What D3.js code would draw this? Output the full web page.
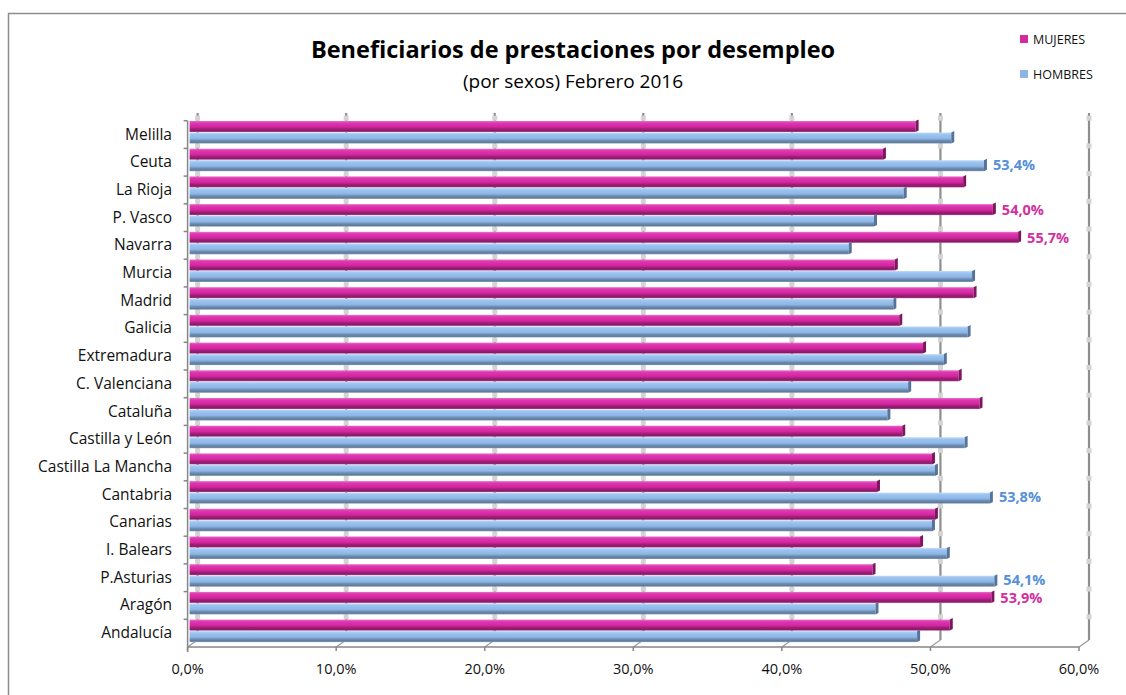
<!DOCTYPE html>
<html>
<head>
<meta charset="utf-8">
<script src="https://cdn.jsdelivr.net/npm/d3@7"></script>
<style>
  html, body { margin: 0; padding: 0; background: #fff; }
  svg { display: block; font-family: "Open Sans", Lato, sans-serif; }
</style>
</head>
<body>
<svg id="chart" width="1126" height="695"></svg>
<script>
// Data (percent of beneficiaries by sex)
const categories = ["Melilla", "Ceuta", "La Rioja", "P. Vasco", "Navarra", "Murcia", "Madrid", "Galicia",
  "Extremadura", "C. Valenciana", "Cataluña", "Castilla y León", "Castilla La Mancha", "Cantabria",
  "Canarias", "I. Balears", "P.Asturias", "Aragón", "Andalucía"];
const mujeres = [48.8, 46.6, 52.0, 54.0, 55.7, 47.4, 52.7, 47.7, 49.3, 51.7, 53.1, 47.9, 49.9, 46.2, 50.1, 49.1, 45.9, 53.9, 51.1];
const hombres = [51.2, 53.4, 48.0, 46.0, 44.3, 52.6, 47.3, 52.3, 50.7, 48.3, 46.9, 52.1, 50.1, 53.8, 49.9, 50.9, 54.1, 46.1, 48.9];
const xTicks = [0, 10, 20, 30, 40, 50, 60];
const labeledMujeres = ["P. Vasco", "Navarra", "Aragón"];
const labeledHombres = ["Ceuta", "Cantabria", "P.Asturias"];

const svg = d3.select("#chart");
const fmt = v => d3.format(".1f")(v).replace(".", ",") + "%";

// chart frame
svg.append("rect")
  .attr("x", 8.5).attr("y", 13.5).attr("width", 1130).attr("height", 700)
  .attr("fill", "none").attr("stroke", "#8c8c8c").attr("stroke-width", 1.5);

// scales (front plane of the 3D plot)
const x = d3.scaleLinear().domain([0, 60]).range([187.6, 1079]);
const y = d3.scaleBand().domain(categories).range([120.7, 647]);
const depthX = 10, depthY = -7;
const barH = 11;

// gradients for the bars
const defs = svg.append("defs");
function grad(id, stops) {
  const g = defs.append("linearGradient").attr("id", id)
    .attr("x1", 0).attr("y1", 0).attr("x2", 0).attr("y2", 1);
  stops.forEach(s => g.append("stop").attr("offset", s[0]).attr("stop-color", s[1]));
}
grad("gM", [[0, "#e870c8"], [0.18, "#de38b0"], [0.55, "#d2259f"], [0.72, "#a01f78"], [0.9, "#8a1a68"], [1, "#b04a92"]]);
grad("gH", [[0, "#c2dcf8"], [0.18, "#9cc4f0"], [0.55, "#8cb6e6"], [0.72, "#6f8fb4"], [0.9, "#5e7a9c"], [1, "#8aa0b8"]]);

// back wall gridlines
const grid = svg.append("g");
grid.selectAll("line.grid")
  .data(xTicks)
  .join("line")
  .attr("class", "grid")
  .attr("x1", d => x(d) + depthX).attr("x2", d => x(d) + depthX)
  .attr("y1", 113).attr("y2", 647 + depthY)
  .attr("stroke", "#8e8e8e").attr("stroke-width", 2.2);
grid.selectAll("line.diag")
  .data(xTicks)
  .join("line")
  .attr("class", "diag")
  .attr("x1", d => x(d)).attr("y1", 647)
  .attr("x2", d => x(d) + depthX).attr("y2", 647 + depthY)
  .attr("stroke", "#9a9a9a").attr("stroke-width", 1.2);
// small marks on gridlines at category boundaries
const marks = [];
xTicks.forEach(t => categories.forEach(c => marks.push([t, c])));
grid.selectAll("rect.mark")
  .data(marks)
  .join("rect")
  .attr("x", d => x(d[0]) + depthX - 2.5)
  .attr("y", d => y(d[1]) - 5)
  .attr("width", 5).attr("height", 5)
  .attr("fill", "#d4d4d4");

// bars
const barsG = svg.append("g");
function drawBars(values, key, fill, cap, offset) {
  const rows = categories.map((c, i) => ({ c, v: values[i] }));
  const g = barsG.append("g").attr("class", key);
  g.selectAll("rect")
    .data(rows)
    .join("rect")
    .attr("x", x(0) + 2)
    .attr("y", d => y(d.c) + offset)
    .attr("width", d => x(d.v) + 3 - (x(0) + 2))
    .attr("height", barH)
    .attr("fill", fill);
  g.selectAll("path")
    .data(rows)
    .join("path")
    .attr("d", d => {
      const xe = x(d.v) + 3, y0 = y(d.c) + offset;
      return `M${xe},${y0} L${xe + 3},${y0 - 1.5} L${xe + 3},${y0 + barH - 1.5} L${xe},${y0 + barH} Z`;
    })
    .attr("fill", cap);
}
drawBars(mujeres, "mujeres", "url(#gM)", "#7d165c", 0.3);
drawBars(hombres, "hombres", "url(#gH)", "#56739a", 11.8);

// front axes
const axisG = svg.append("g").attr("stroke", "#868686").attr("stroke-width", 1.5);
axisG.append("line").attr("x1", x(0)).attr("x2", x(60)).attr("y1", 647).attr("y2", 647);
axisG.append("line").attr("x1", x(0)).attr("x2", x(0)).attr("y1", y.range()[0]).attr("y2", 652);
axisG.selectAll("line.yt")
  .data(categories)
  .join("line")
  .attr("class", "yt")
  .attr("x1", x(0) - 4).attr("x2", x(0))
  .attr("y1", d => y(d)).attr("y2", d => y(d));
axisG.selectAll("line.xt")
  .data(xTicks)
  .join("line")
  .attr("class", "xt")
  .attr("x1", d => x(d)).attr("x2", d => x(d))
  .attr("y1", 647).attr("y2", 651);

// category labels
svg.append("g").selectAll("text")
  .data(categories)
  .join("text")
  .attr("x", 172)
  .attr("y", d => y(d) + y.bandwidth() / 2 + 5)
  .attr("text-anchor", "end")
  .attr("font-size", 15.5)
  .attr("fill", "#111")
  .text(d => d);

// x tick labels
svg.append("g").selectAll("text")
  .data(xTicks)
  .join("text")
  .attr("x", d => x(d))
  .attr("y", 674)
  .attr("text-anchor", "middle")
  .attr("font-size", 14.5)
  .attr("fill", "#111")
  .text(d => fmt(d));

// value labels
const lbl = svg.append("g").attr("font-size", 14.5).attr("font-weight", "bold");
lbl.selectAll("text.m")
  .data(labeledMujeres)
  .join("text")
  .attr("class", "m")
  .attr("x", d => x(mujeres[categories.indexOf(d)]) + 12)
  .attr("y", d => y(d) + 0.3 + barH / 2 + 5.5)
  .attr("fill", "#d2309f")
  .text(d => fmt(mujeres[categories.indexOf(d)]));
lbl.selectAll("text.h")
  .data(labeledHombres)
  .join("text")
  .attr("class", "h")
  .attr("x", d => x(hombres[categories.indexOf(d)]) + 12)
  .attr("y", d => y(d) + 11.8 + barH / 2 + 4)
  .attr("fill", "#5590d8")
  .text(d => fmt(hombres[categories.indexOf(d)]));

// title
svg.append("text")
  .attr("x", 573).attr("y", 58)
  .attr("text-anchor", "middle")
  .attr("font-size", 23.5).attr("font-weight", "bold")
  .attr("fill", "#000")
  .text("Beneficiarios de prestaciones por desempleo");
svg.append("text")
  .attr("x", 573).attr("y", 88)
  .attr("text-anchor", "middle")
  .attr("font-size", 19)
  .attr("fill", "#000")
  .text("(por sexos) Febrero 2016");

// legend
const legend = [["MUJERES", "#d22a9f"], ["HOMBRES", "#8cb6e6"]];
const lg = svg.append("g").selectAll("g")
  .data(legend)
  .join("g")
  .attr("transform", (d, i) => `translate(1020,${39 + i * 35})`);
lg.append("rect").attr("x", 0).attr("y", -4).attr("width", 8).attr("height", 8).attr("fill", d => d[1]);
lg.append("text").attr("x", 13).attr("y", 4.5).attr("font-size", 12.5).attr("fill", "#111").text(d => d[0]);
</script>
</body>
</html>
